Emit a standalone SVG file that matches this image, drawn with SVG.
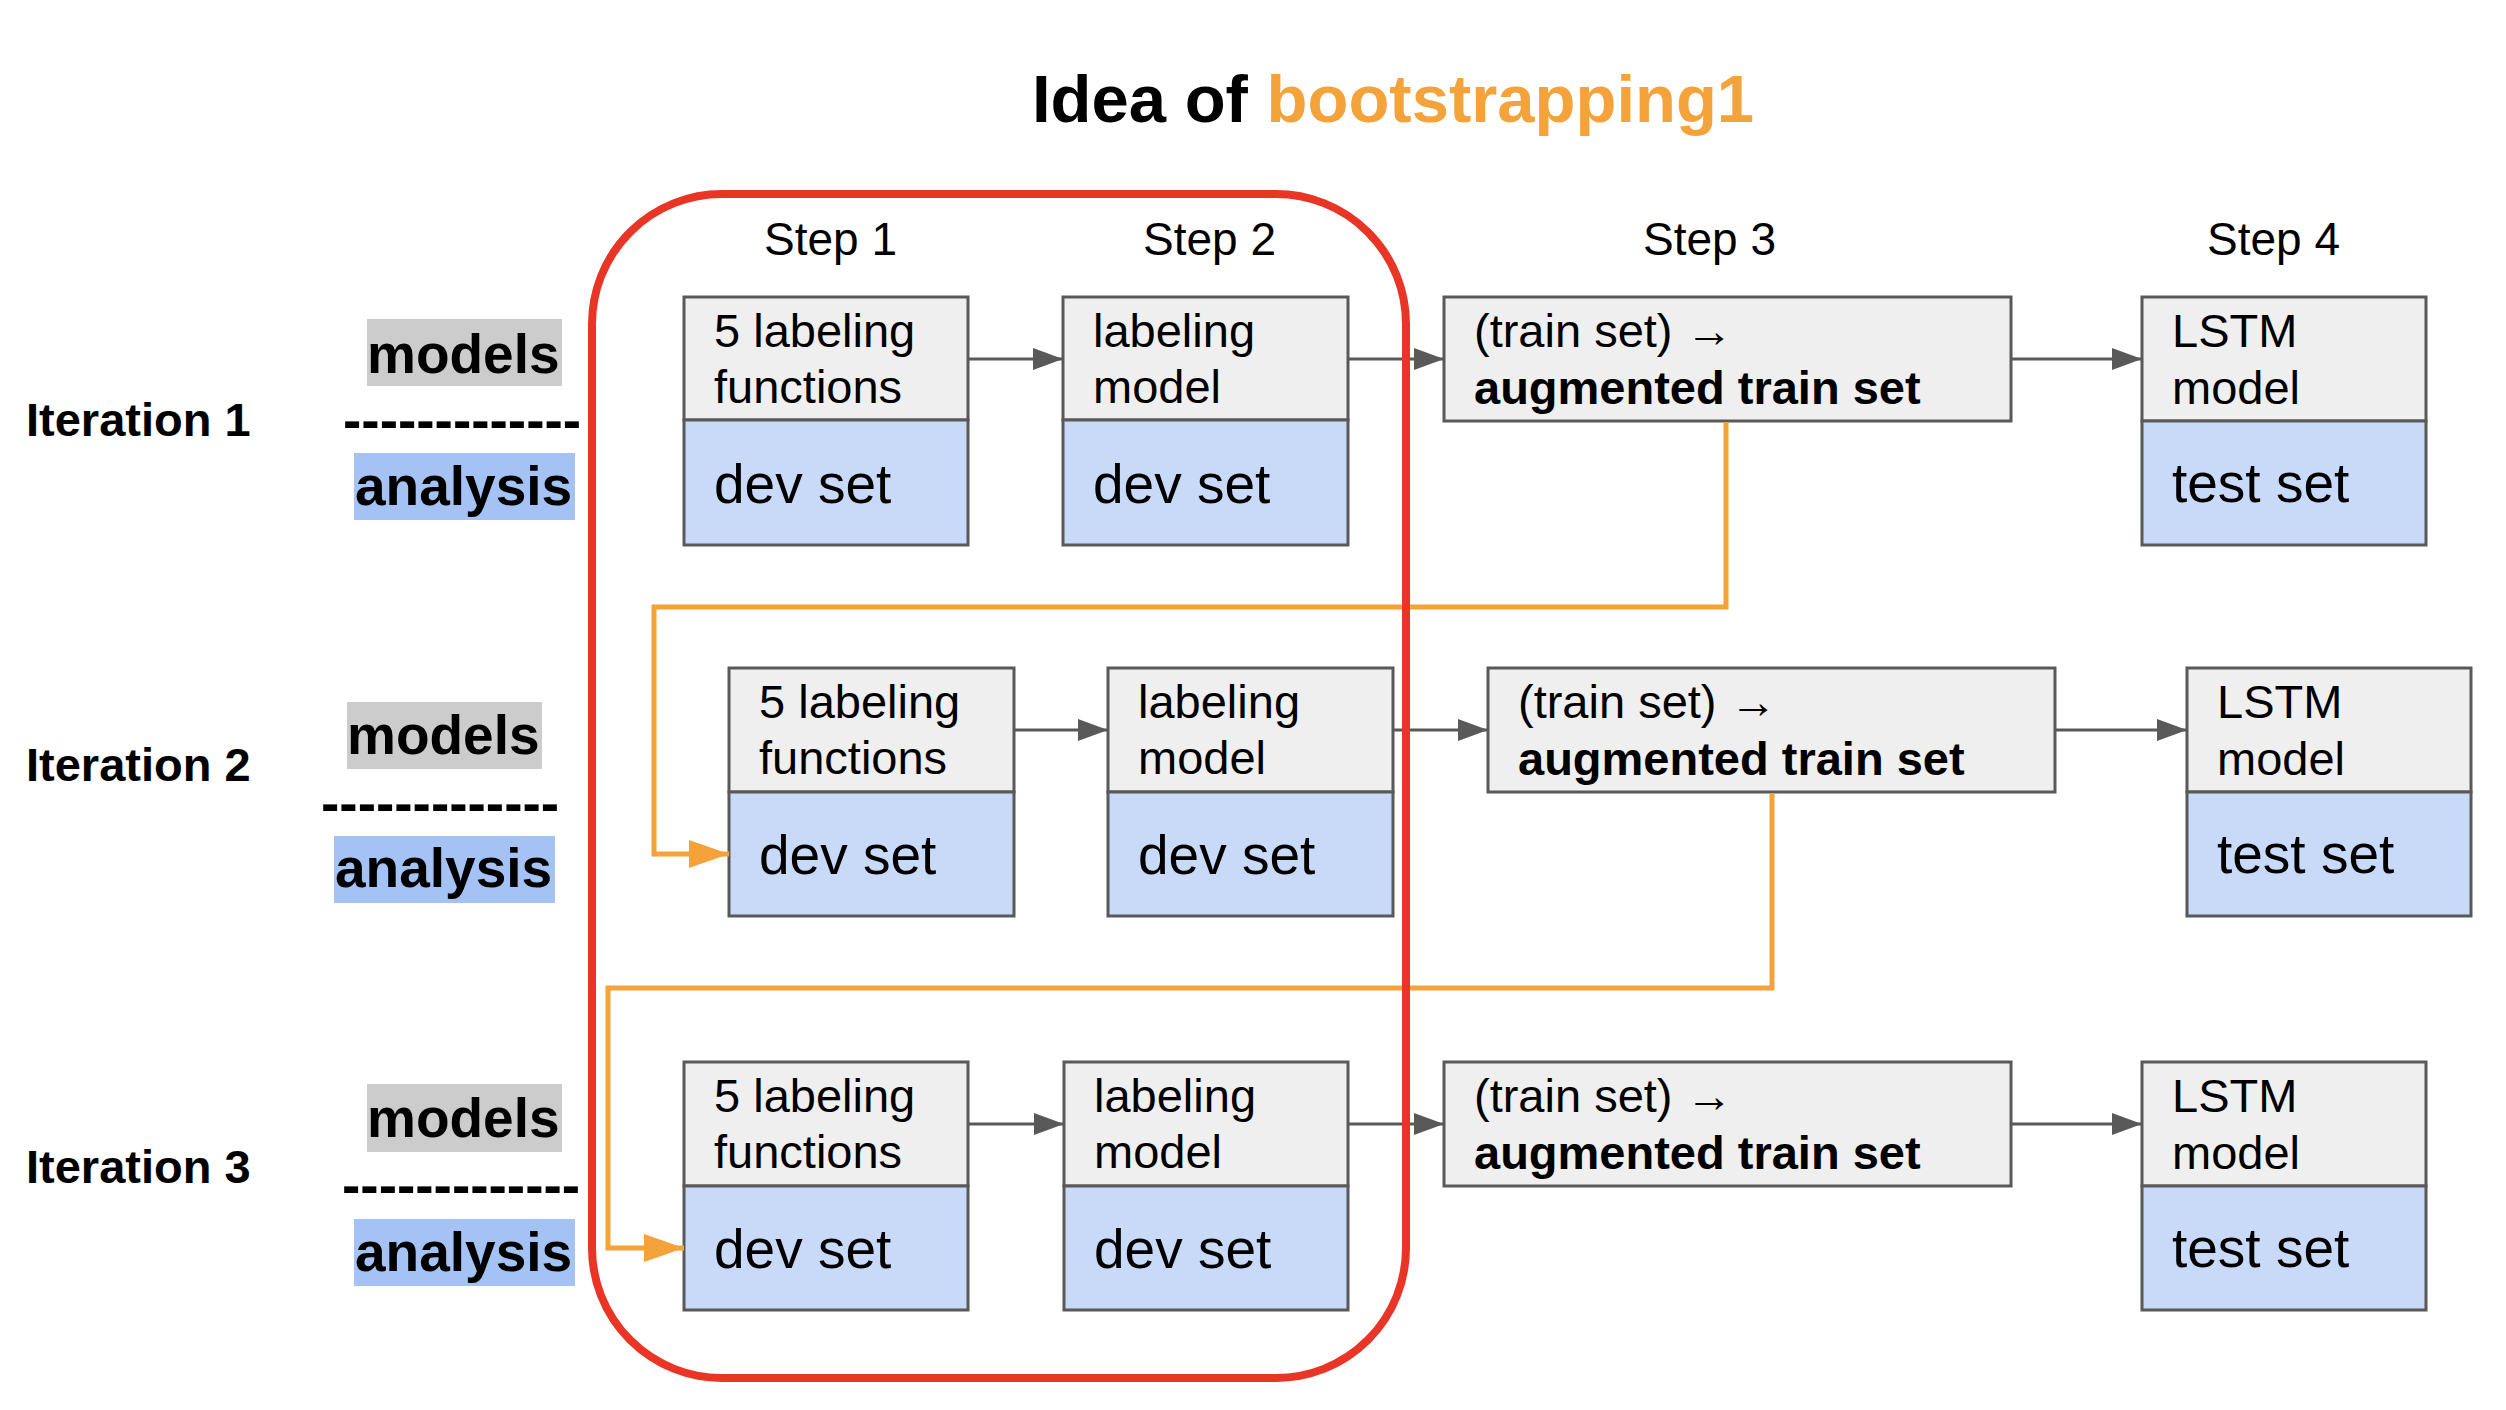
<svg xmlns="http://www.w3.org/2000/svg" width="2506" height="1410" viewBox="0 0 2506 1410">
<style>
text{font-family:"Liberation Sans",Arial,sans-serif;fill:#000}
.title{font-size:67px;font-weight:bold}
.step{font-size:46px}
.iter{font-size:47px;font-weight:bold}
.lab{font-size:55px;font-weight:bold}
.t{font-size:47px}
.b{font-size:47px;font-weight:bold}
.big{font-size:55px}
.top{fill:#efefef;stroke:#595959;stroke-width:3}
.bot{fill:#c9daf8;stroke:#595959;stroke-width:3}
.g{stroke:#595959;stroke-width:3;fill:none}
.o{stroke:#f4a23a;stroke-width:5;fill:none}
</style>
<defs>
<marker id="ag" markerUnits="userSpaceOnUse" markerWidth="30" markerHeight="22" refX="30" refY="11" orient="auto"><path d="M0,0 L30,11 L0,22 z" fill="#595959"/></marker>
<marker id="ao" markerUnits="userSpaceOnUse" markerWidth="40" markerHeight="28" refX="40" refY="14" orient="auto"><path d="M0,0 L40,14 L0,28 z" fill="#f4a23a"/></marker>
</defs>
<rect width="2506" height="1410" fill="#fff"/>
<text class="title" x="1032" y="122">Idea of <tspan fill="#f4a23a">bootstrapping1</tspan></text>
<g id="steps">
<text class="step" x="764" y="255">Step 1</text>
<text class="step" x="1143" y="255">Step 2</text>
<text class="step" x="1643" y="255">Step 3</text>
<text class="step" x="2207" y="255">Step 4</text>
</g>
<g id="labels">
<text class="iter" x="26" y="436">Iteration 1</text>
<text class="iter" x="26" y="781">Iteration 2</text>
<text class="iter" x="26" y="1183">Iteration 3</text>
<rect x="367" y="319" width="195" height="67" fill="#cccccc"/>
<text class="lab" x="367" y="373">models</text>
<text class="lab" x="343" y="439">-------------</text>
<rect x="354" y="453" width="221" height="67" fill="#a4c2f4"/>
<text class="lab" x="355" y="505">analysis</text>
<rect x="347" y="702" width="195" height="67" fill="#cccccc"/>
<text class="lab" x="347" y="754">models</text>
<text class="lab" x="321" y="822">-------------</text>
<rect x="334" y="836" width="221" height="67" fill="#a4c2f4"/>
<text class="lab" x="335" y="887">analysis</text>
<rect x="367" y="1084" width="195" height="68" fill="#cccccc"/>
<text class="lab" x="367" y="1137">models</text>
<text class="lab" x="342" y="1204">-------------</text>
<rect x="354" y="1219" width="221" height="67" fill="#a4c2f4"/>
<text class="lab" x="355" y="1271">analysis</text>
</g>
<g id="i1s1"><rect class="top" x="684" y="297" width="284" height="123"/><rect class="bot" x="684" y="420" width="284" height="125"/>
<text class="t" x="714" y="347">5 labeling</text><text class="t" x="714" y="403">functions</text><text class="big" x="714" y="503">dev set</text></g>
<g id="i1s2"><rect class="top" x="1063" y="297" width="285" height="123"/><rect class="bot" x="1063" y="420" width="285" height="125"/>
<text class="t" x="1093" y="347">labeling</text><text class="t" x="1093" y="403">model</text><text class="big" x="1093" y="503">dev set</text></g>
<g id="i1s3"><rect class="top" x="1444" y="297" width="567" height="124"/>
<text class="t" x="1474" y="347">(train set) →</text><text class="b" x="1474" y="404">augmented train set</text></g>
<g id="i1s4"><rect class="top" x="2142" y="297" width="284" height="124"/><rect class="bot" x="2142" y="421" width="284" height="124"/>
<text class="t" x="2172" y="347">LSTM</text><text class="t" x="2172" y="404">model</text><text class="big" x="2172" y="502">test set</text></g>

<g id="i2s1"><rect class="top" x="729" y="668" width="285" height="124"/><rect class="bot" x="729" y="792" width="285" height="124"/>
<text class="t" x="759" y="718">5 labeling</text><text class="t" x="759" y="774">functions</text><text class="big" x="759" y="874">dev set</text></g>
<g id="i2s2"><rect class="top" x="1108" y="668" width="285" height="124"/><rect class="bot" x="1108" y="792" width="285" height="124"/>
<text class="t" x="1138" y="718">labeling</text><text class="t" x="1138" y="774">model</text><text class="big" x="1138" y="874">dev set</text></g>
<g id="i2s3"><rect class="top" x="1488" y="668" width="567" height="124"/>
<text class="t" x="1518" y="718">(train set) →</text><text class="b" x="1518" y="775">augmented train set</text></g>
<g id="i2s4"><rect class="top" x="2187" y="668" width="284" height="124"/><rect class="bot" x="2187" y="792" width="284" height="124"/>
<text class="t" x="2217" y="718">LSTM</text><text class="t" x="2217" y="775">model</text><text class="big" x="2217" y="873">test set</text></g>

<g id="i3s1"><rect class="top" x="684" y="1062" width="284" height="124"/><rect class="bot" x="684" y="1186" width="284" height="124"/>
<text class="t" x="714" y="1112">5 labeling</text><text class="t" x="714" y="1168">functions</text><text class="big" x="714" y="1268">dev set</text></g>
<g id="i3s2"><rect class="top" x="1064" y="1062" width="284" height="124"/><rect class="bot" x="1064" y="1186" width="284" height="124"/>
<text class="t" x="1094" y="1112">labeling</text><text class="t" x="1094" y="1168">model</text><text class="big" x="1094" y="1268">dev set</text></g>
<g id="i3s3"><rect class="top" x="1444" y="1062" width="567" height="124"/>
<text class="t" x="1474" y="1112">(train set) →</text><text class="b" x="1474" y="1169">augmented train set</text></g>
<g id="i3s4"><rect class="top" x="2142" y="1062" width="284" height="124"/><rect class="bot" x="2142" y="1186" width="284" height="124"/>
<text class="t" x="2172" y="1112">LSTM</text><text class="t" x="2172" y="1169">model</text><text class="big" x="2172" y="1267">test set</text></g>

<g id="connectors">
<line class="g" x1="968" y1="359" x2="1063" y2="359" marker-end="url(#ag)"/>
<line class="g" x1="1348" y1="359" x2="1444" y2="359" marker-end="url(#ag)"/>
<line class="g" x1="2011" y1="359" x2="2142" y2="359" marker-end="url(#ag)"/>
<line class="g" x1="1014" y1="730" x2="1108" y2="730" marker-end="url(#ag)"/>
<line class="g" x1="1393" y1="730" x2="1488" y2="730" marker-end="url(#ag)"/>
<line class="g" x1="2055" y1="730" x2="2187" y2="730" marker-end="url(#ag)"/>
<line class="g" x1="968" y1="1124" x2="1064" y2="1124" marker-end="url(#ag)"/>
<line class="g" x1="1348" y1="1124" x2="1444" y2="1124" marker-end="url(#ag)"/>
<line class="g" x1="2011" y1="1124" x2="2142" y2="1124" marker-end="url(#ag)"/>
<path class="o" d="M1726,422 V607 H654 V854 H729" marker-end="url(#ao)"/>
<path class="o" d="M1772,793 V988 H608 V1248 H684" marker-end="url(#ao)"/>
</g>
<rect id="highlight" x="592" y="194" width="814" height="1184" rx="130" ry="130" fill="none" stroke="#e93526" stroke-width="8"/>
</svg>
